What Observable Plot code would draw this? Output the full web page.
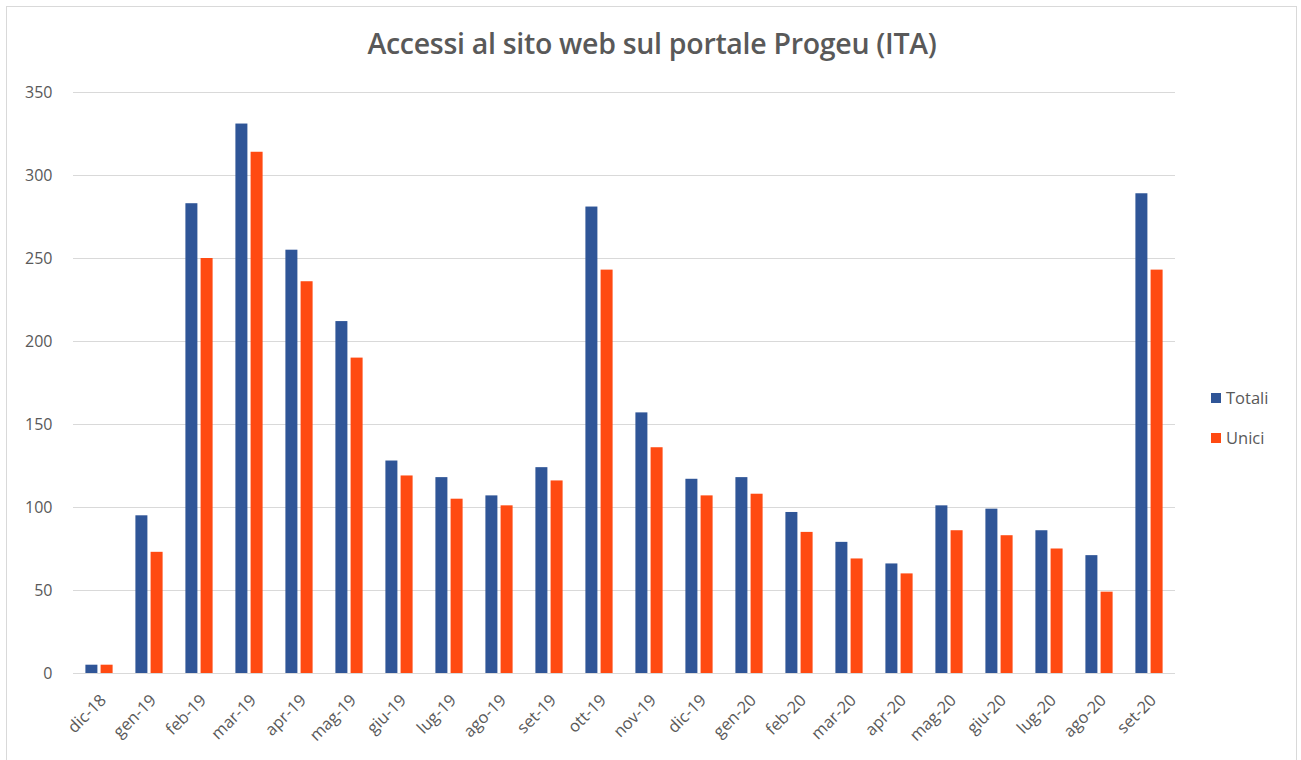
<!DOCTYPE html>
<html>
<head>
<meta charset="utf-8">
<script src="https://cdn.jsdelivr.net/npm/d3@7"></script>
<script src="https://cdn.jsdelivr.net/npm/@observablehq/plot@0.6"></script>
<style>
  html, body { margin: 0; padding: 0; background: #fff; }
  #wrap { position: relative; width: 1301px; height: 760px; overflow: hidden; font-family: "Open Sans", sans-serif; }
  #frame { position: absolute; left: 6px; top: 6px; width: 1291px; height: 800px; border: 1px solid #d9d9d9; box-sizing: border-box; }
  #title { position: absolute; left: 0; width: 1304px; top: 24px; text-align: center; font-size: 28.5px; font-weight: 600; color: #595959; letter-spacing: -0.3px; }
  #chart { position: absolute; left: 0; top: 0; }
  .leg { position: absolute; left: 1211px; font-size: 16.5px; color: #595959; display: flex; align-items: center; }
  .leg span.sw { display: inline-block; width: 10px; height: 10px; margin-right: 5px; }
</style>
</head>
<body>
<div id="wrap">
  <div id="frame"></div>
  <div id="title">Accessi al sito web sul portale Progeu (ITA)</div>
  <div id="chart"></div>
  <div class="leg" id="leg0" style="top:386px"></div>
  <div class="leg" id="leg1" style="top:426px"></div>
</div>
<script>
const months = ["dic-18","gen-19","feb-19","mar-19","apr-19","mag-19","giu-19","lug-19","ago-19","set-19","ott-19","nov-19","dic-19","gen-20","feb-20","mar-20","apr-20","mag-20","giu-20","lug-20","ago-20","set-20"];
const totali = [5, 95, 283, 331, 255, 212, 128, 118, 107, 124, 281, 157, 117, 118, 97, 79, 66, 101, 99, 86, 71, 289];
const unici  = [5, 73, 250, 314, 236, 190, 119, 105, 101, 116, 243, 136, 107, 108, 85, 69, 60, 86, 83, 75, 49, 243];
const series = ["Totali", "Unici"];
const colors = ["#2f5597", "#ff4a12"];
const yTicks = [0, 50, 100, 150, 200, 250, 300, 350];

const rowsT = months.map((m, i) => ({month: m, serie: series[0], value: totali[i]}));
const rowsU = months.map((m, i) => ({month: m, serie: series[1], value: unici[i]}));

const chart = Plot.plot({
  width: 1301,
  height: 760,
  marginLeft: 73,
  marginRight: 126,
  marginTop: 92,
  marginBottom: 87,
  style: {fontFamily: "Open Sans, sans-serif", fontSize: "16px", color: "#595959", background: "transparent", overflow: "visible"},
  x: {domain: months, paddingInner: 0.77, paddingOuter: 0.385, label: null},
  y: {domain: [0, 350], label: null},
  color: {domain: series, range: colors},
  marks: [
    Plot.gridY(yTicks, {stroke: "#d9d9d9", strokeOpacity: 1, strokeWidth: 1}),
    Plot.barY(rowsT, {x: "month", y: "value", fill: "serie", dx: -7.6}),
    Plot.barY(rowsU, {x: "month", y: "value", fill: "serie", dx: 7.6}),
    Plot.axisY(yTicks, {tickSize: 0, tickPadding: 21, label: null, fill: "#595959", fontSize: 16}),
    Plot.axisX({tickSize: 0, tickPadding: 24, dx: 4, tickRotate: -45, label: null, fill: "#595959", fontSize: 16.5})
  ]
});
document.getElementById("chart").appendChild(chart);

series.forEach((s, i) => {
  const el = document.getElementById("leg" + i);
  el.innerHTML = `<span class="sw" style="background:${colors[i]}"></span>${s}`;
});
</script>
</body>
</html>
